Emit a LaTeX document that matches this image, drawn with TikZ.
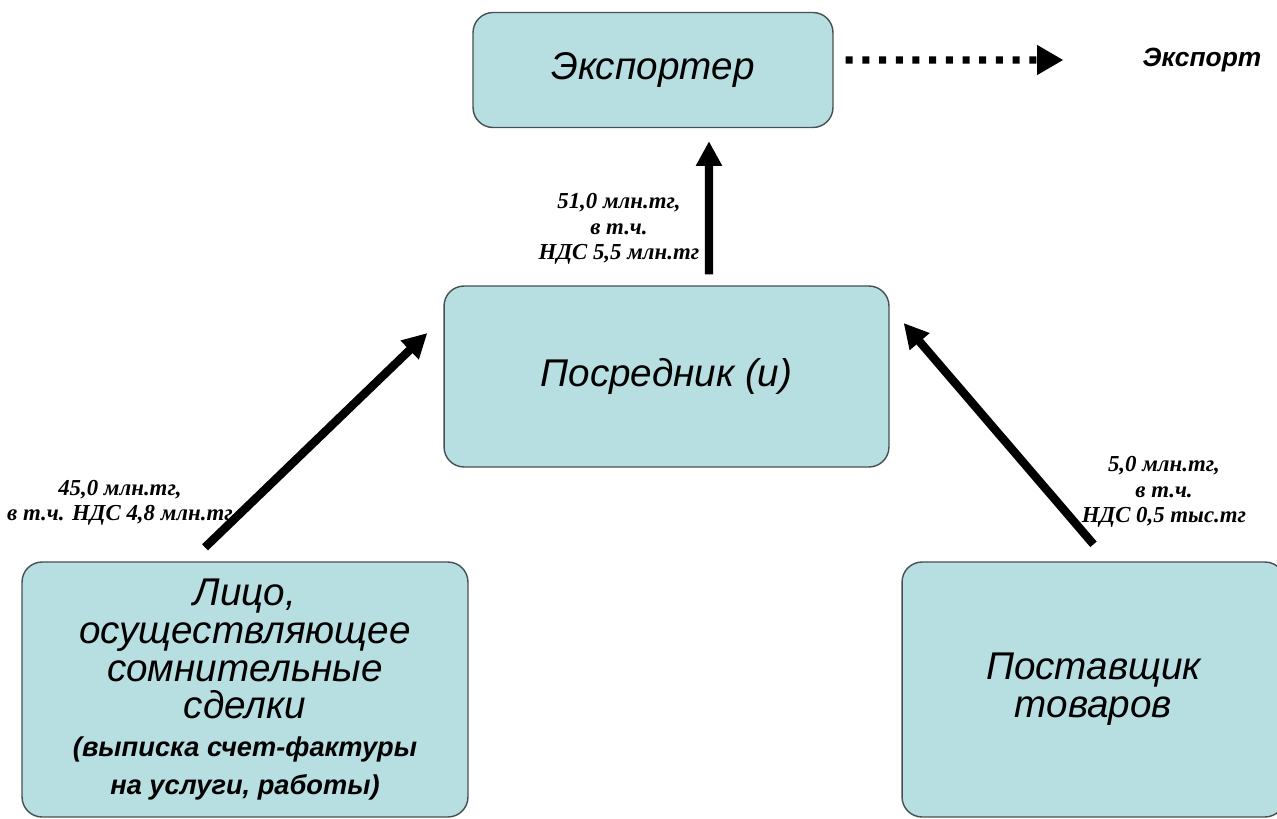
\documentclass[tikz,border=0pt]{standalone}
\usepackage{fontspec}
\setmainfont{Liberation Sans}
\newfontfamily\lblfont{Liberation Serif}
\usepackage{xcolor}
\usetikzlibrary{arrows.meta}

\definecolor{boxfill}{RGB}{183,222,225}
\definecolor{boxline}{RGB}{70,80,82}
\newcommand{\smallnote}{\fontsize{15.5}{19.5}\selectfont\bfseries}

\begin{document}
\begin{tikzpicture}[x=0.02cm,y=-0.02cm,
    party/.style={draw=boxline, line width=0.8pt, fill=boxfill, rounded corners=0.4cm,
      align=center, font=\fontsize{22}{21.5}\selectfont\itshape},
    money/.style={align=center, font=\lblfont\fontsize{13}{14.5}\selectfont\bfseries\itshape},
    flow/.style={line width=4.8pt, -{Triangle[length=14pt,width=14pt]}}]
            \useasboundingbox (0,0) rectangle (1277,818);
            \clip (0,0) rectangle (1277,818);
            % boxes
            \node [party, minimum width=7.2cm, minimum height=2.3cm] (exp) at (653,70) {Экспортер};
            \node [party, minimum width=8.9cm, minimum height=3.62cm] (mid) at (666.5,376.5) {Посредник (и)};
            \node [party, minimum width=8.92cm, minimum height=5.1cm] (lft) at (245,689.5)
                {Лицо,\\ осуществляющее\\ сомнительные\\ сделки\\
                 \smallnote (выписка счет-фактуры\\ \smallnote на услуги, работы)};
            \node [party, minimum width=7.66cm, minimum height=5.1cm] (rgt) at (1093.5,689.5) {Поставщик\\ товаров};
            \node [font=\fontsize{15}{17}\selectfont\bfseries\itshape] (out) at (1202,60) {Экспорт};
            % amounts
            \node [money] (m1) at (619,229) {51,0 млн.тг,\\ в т.ч.\\ НДС 5,5 млн.тг};
            \node [money] (m2) at (120,503) {45,0 млн.тг,\\ в т.ч. НДС 4,8 млн.тг};
            \node [money] (m3) at (1164,492) {5,0 млн.тг,\\ в т.ч.\\ НДС 0,5 тыс.тг};
            % arrows
            \draw [flow] ([xshift=0.85cm, yshift=0.22cm]mid.north) -- ([xshift=1.12cm, yshift=-0.26cm]exp.south);
            \draw [flow] ([xshift=-0.8cm, yshift=0.28cm]lft.north) -- ([xshift=-0.32cm, yshift=0.87cm]mid.west);
            \draw [flow] ([yshift=0.34cm]rgt.north) -- ([xshift=0.28cm, yshift=1.07cm]mid.east);
            \draw [line width=4pt, dash pattern=on 4pt off 5.5pt, -{Triangle[length=15pt,width=16pt]}]
                ([xshift=0.24cm, yshift=0.2cm]exp.east) -- ([xshift=-1.46cm]out.west);
        \end{tikzpicture}
\end{document}
